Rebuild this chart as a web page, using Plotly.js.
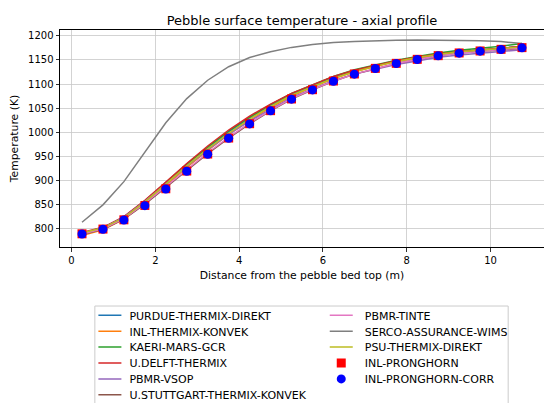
<!DOCTYPE html>
<html>
<head>
<meta charset="utf-8">
<script src="https://cdn.plot.ly/plotly-3.0.1.min.js"></script>
<style>html,body{margin:0;padding:0;background:#fff;}#chart{width:544px;height:403px;}</style>
</head>
<body>
<div id="chart"></div>
<script>
// Distance from the pebble bed top (m)
const distance = [0.25, 0.75, 1.25, 1.75, 2.25, 2.75, 3.25, 3.75, 4.25, 4.75, 5.25, 5.75, 6.25, 6.75, 7.25, 7.75, 8.25, 8.75, 9.25, 9.75, 10.25, 10.75];

// Pebble surface temperature (K) per participant
const purdueThermixDirekt = [790.6, 802.4, 824.6, 857.3, 894.9, 932.6, 967.8, 1000.9, 1029.6, 1055.6, 1078.8, 1097, 1114, 1127.6, 1138.2, 1147.6, 1154.9, 1162.5, 1167.1, 1171.2, 1174.6, 1178.1];
const inlThermixKonvek = [786.6, 798.4, 820.6, 853.3, 889.9, 927.6, 962.8, 995.9, 1024.6, 1051.6, 1074.8, 1094, 1111, 1125.6, 1136.2, 1146.6, 1153.9, 1161.5, 1167.1, 1170.2, 1173.6, 1177.1];
const kaeriMarsGcr = [790.6, 802.4, 824.6, 858.3, 895.9, 934.6, 969.8, 1002.9, 1031.6, 1057.6, 1080.8, 1099, 1116, 1129.6, 1140.2, 1149.6, 1156.9, 1164.5, 1170.1, 1174.2, 1178.6, 1184.1];
const uDelftThermix = [792.6, 803.4, 825.6, 859.3, 896.9, 935.6, 971.8, 1004.9, 1033.6, 1058.6, 1080.8, 1099, 1116, 1128.6, 1139.2, 1148.6, 1155.9, 1162.5, 1167.1, 1171.2, 1174.6, 1178.1];
const pbmrVsop = [790.6, 802.4, 824.6, 857.3, 892.9, 929.6, 963.8, 995.9, 1023.6, 1048.6, 1071.8, 1090, 1107, 1120.6, 1131.2, 1140.6, 1147.9, 1155.5, 1160.1, 1164.2, 1167.6, 1171.1];
const uStuttgartThermixKonvek = [788.6, 799.4, 820.6, 851.3, 885.9, 921.6, 955.8, 987.9, 1017.6, 1044.6, 1068.8, 1088, 1106, 1120.6, 1132.2, 1142.6, 1150.9, 1158.5, 1164.1, 1168.2, 1170.6, 1174.1];
const pbmrTinte = [789.6, 800.4, 821.6, 853.3, 887.9, 923.6, 957.8, 989.9, 1019.6, 1045.6, 1069.8, 1089, 1106, 1120.6, 1132.2, 1142.6, 1150.9, 1158.5, 1164.1, 1168.2, 1171.6, 1175.1];
const sercoAssuranceWims = [814, 850, 898, 958, 1020, 1070, 1108, 1136, 1155, 1167, 1176, 1182, 1186, 1188, 1190, 1191, 1191.5, 1191.5, 1191, 1190, 1188, 1184];
const psuThermixDirekt = [791.6, 802.4, 823.6, 856.3, 892.9, 930.6, 965.8, 997.9, 1027.6, 1053.6, 1076.8, 1095, 1112, 1125.6, 1137.2, 1146.6, 1154.9, 1161.5, 1167.1, 1170.2, 1173.6, 1177.1];
const inlPronghorn = [790.0, 799.8, 819.0, 848.7, 883.3, 920.0, 955.2, 988.3, 1018.0, 1045.0, 1069.2, 1088.4, 1106.4, 1121.0, 1132.6, 1143.0, 1151.3, 1158.9, 1164.5, 1168.6, 1172.0, 1175.5];
const inlPronghornCorr = [789.6, 799.4, 818.6, 848.3, 882.9, 919.6, 954.8, 987.9, 1017.6, 1044.6, 1068.8, 1088, 1106, 1120.6, 1132.2, 1142.6, 1150.9, 1158.5, 1164.1, 1168.2, 1171.6, 1175.1];

const lineSeries = [
  ['PURDUE-THERMIX-DIREKT', purdueThermixDirekt, '#1f77b4', 'legend'],
  ['INL-THERMIX-KONVEK', inlThermixKonvek, '#ff7f0e', 'legend'],
  ['KAERI-MARS-GCR', kaeriMarsGcr, '#2ca02c', 'legend'],
  ['U.DELFT-THERMIX', uDelftThermix, '#d62728', 'legend'],
  ['PBMR-VSOP', pbmrVsop, '#9467bd', 'legend'],
  ['U.STUTTGART-THERMIX-KONVEK', uStuttgartThermixKonvek, '#8c564b', 'legend'],
  ['PBMR-TINTE', pbmrTinte, '#e377c2', 'legend2'],
  ['SERCO-ASSURANCE-WIMS', sercoAssuranceWims, '#7f7f7f', 'legend2'],
  ['PSU-THERMIX-DIREKT', psuThermixDirekt, '#bcbd22', 'legend2']
];

const traces = lineSeries.map(([name, y, color, lg]) => ({
  type: 'scatter', mode: 'lines', name: name, x: distance, y: y,
  line: {color: color, width: 1.5}, legend: lg
}));
traces.push({
  type: 'scatter', mode: 'markers', name: 'INL-PRONGHORN', x: distance, y: inlPronghorn,
  marker: {symbol: 'square', color: '#ff0000', size: 9}, legend: 'legend2'
});
traces.push({
  type: 'scatter', mode: 'markers', name: 'INL-PRONGHORN-CORR', x: distance, y: inlPronghornCorr,
  marker: {symbol: 'circle', color: '#0000ff', size: 9}, legend: 'legend2'
});

const font = {family: 'DejaVu Sans', size: 10, color: '#000'};
const labelFont = {family: 'DejaVu Sans', size: 10.8, color: '#000'};
const legendBase = {
  orientation: 'v', xanchor: 'left', yanchor: 'top', y: -0.248,
  bgcolor: 'rgba(0,0,0,0)', borderwidth: 0, font: {family: 'DejaVu Sans', size: 11, color: '#000'},
  tracegroupgap: 0, itemwidth: 30
};

const layout = {
  width: 544, height: 403,
  margin: {l: 60, r: 0, t: 30, b: 156, pad: 0, autoexpand: false},
  paper_bgcolor: '#fff', plot_bgcolor: '#fff',
  font: font,
  showlegend: true,
  title: {text: 'Pebble surface temperature - axial profile', font: {family: 'DejaVu Sans', size: 13, color: '#000'},
          x: 0.5, xref: 'paper', xanchor: 'center', y: 0.95, yref: 'container', yanchor: 'middle'},
  xaxis: {
    range: [-0.275, 11.275], tickvals: [0, 2, 4, 6, 8, 10], ticktext: ['0', '2', '4', '6', '8', '10'],
    showgrid: true, gridcolor: '#c8c8c8', gridwidth: 0.8, zeroline: false,
    showline: true, linecolor: '#000', linewidth: 1, mirror: true,
    ticks: 'outside', ticklen: 3.5, tickwidth: 0.8, tickcolor: '#000',
    tickfont: font, automargin: false,
    title: {text: 'Distance from the pebble bed top (m)', font: labelFont, standoff: 6}
  },
  yaxis: {
    range: [762.7, 1212], tickvals: [800, 850, 900, 950, 1000, 1050, 1100, 1150, 1200],
    showgrid: true, gridcolor: '#c8c8c8', gridwidth: 0.8, zeroline: false,
    showline: true, linecolor: '#000', linewidth: 1, mirror: true,
    ticks: 'outside', ticklen: 3.5, tickwidth: 0.8, tickcolor: '#000',
    tickfont: font, automargin: false,
    title: {text: 'Temperature (K)', font: labelFont, standoff: 7}
  },
  legend: Object.assign({}, legendBase, {x: 0.069}),
  legend2: Object.assign({}, legendBase, {x: 0.547}),
  shapes: [{
    type: 'rect', xref: 'paper', yref: 'paper', x0: 0.072, x1: 0.926, y0: -0.272, y1: -0.8,
    line: {color: '#cccccc', width: 1}, fillcolor: 'rgba(0,0,0,0)', layer: 'below'
  }]
};

// Tighten the legend rows and keys to the compact spacing of the reference legend.
function tightenLegend(gd) {
  const parse = el => {
    const m = /translate\(\s*([-\d.eE]+)[\s,]+([-\d.eE]+)/.exec(el.getAttribute('transform') || '');
    return m ? [parseFloat(m[1]), parseFloat(m[2])] : [0, 0];
  };
  gd.querySelectorAll('g.legend, g.legend2').forEach(lg => {
    const items = Array.from(lg.querySelectorAll('g.traces'));
    if (!items.length) return;
    const y0 = parse(items[0])[1];
    items.forEach(it => {
      const [x, y] = parse(it);
      it.setAttribute('transform', 'translate(' + x + ',' + (y0 + (y - y0) * 15.9 / 19) + ')');
      it.querySelectorAll('g.legendlines path').forEach(p => p.setAttribute('d', 'M5,0h23'));
      it.querySelectorAll('path.scatterpts').forEach(p => p.setAttribute('transform', 'translate(16.5,0)'));
      const t = it.querySelector('text.legendtext');
      if (t) {
        t.setAttribute('x', 36);
        t.querySelectorAll('tspan').forEach(s => { if (s.hasAttribute('x')) s.setAttribute('x', 36); });
      }
    });
  });
}

Plotly.newPlot('chart', traces, layout, {displayModeBar: false, staticPlot: true}).then(tightenLegend);
</script>
</body>
</html>
